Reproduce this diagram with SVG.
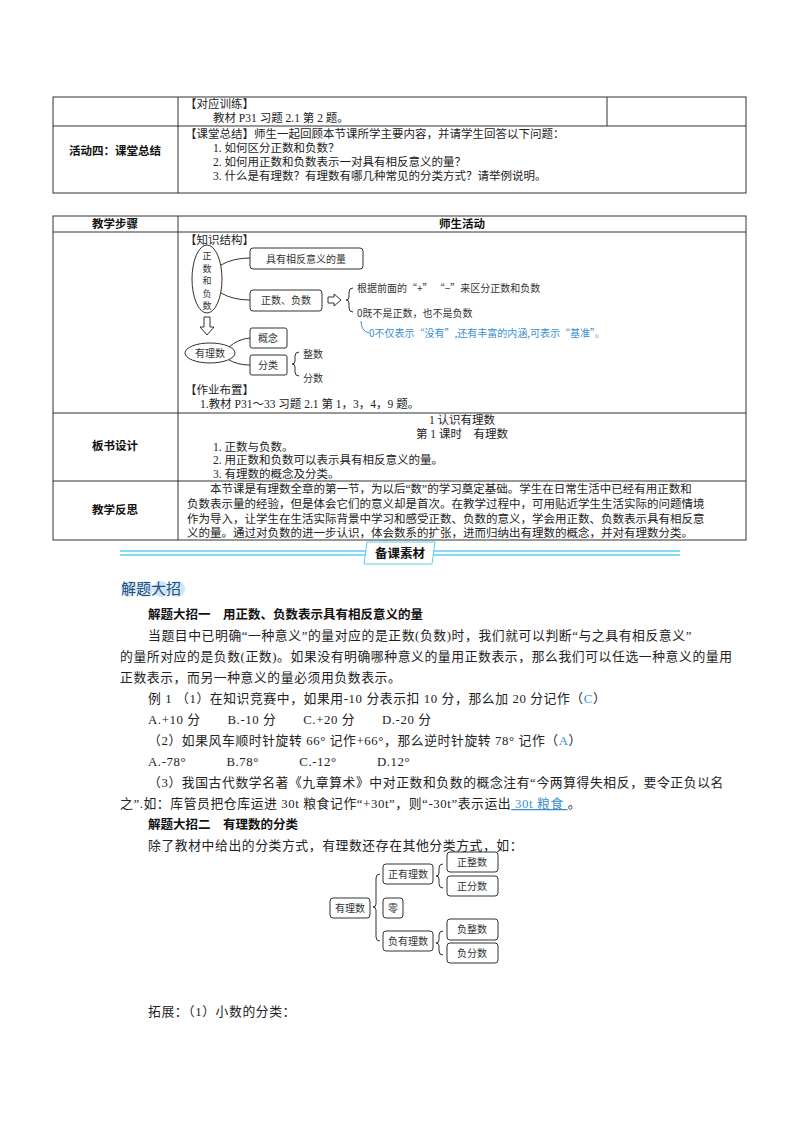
<svg xmlns="http://www.w3.org/2000/svg" width="800" height="1132" viewBox="0 0 800 1132">
<style>
.t{font-family:"Liberation Serif","Noto Sans CJK SC",serif;font-size:11.5px;fill:#222}
.b{font-family:"Noto Sans CJK SC",sans-serif;font-size:11.5px;font-weight:bold;fill:#111}
.p{font-family:"Liberation Serif","Noto Sans CJK SC",serif;font-size:12.8px;fill:#222;letter-spacing:0.6px}
.h{font-family:"Noto Sans CJK SC",sans-serif;font-size:12.5px;font-weight:bold;fill:#111}
.s{font-family:"Noto Sans CJK SC",sans-serif;font-size:10px;fill:#333}
.v{font-family:"Noto Sans CJK SC",sans-serif;font-size:9px;fill:#333}
.blue{fill:#3a8fd0}
.ln{stroke:#333;stroke-width:1;fill:none}
.bx{stroke:#333;stroke-width:1;fill:#fff}
</style>
<rect width="800" height="1132" fill="#fff"/>
<g id="table1">
<rect x="53" y="97" width="693" height="96" class="ln"/>
<line x1="53" y1="126" x2="746" y2="126" class="ln"/>
<line x1="178" y1="97" x2="178" y2="193" class="ln"/>
<line x1="607" y1="97" x2="607" y2="126" class="ln"/>
<text x="185" y="108" class="t">【对应训练】</text>
<text x="213" y="122" class="t">教材 P31 习题 2.1 第 2 题。</text>
<text x="115" y="155" class="b" text-anchor="middle">活动四：课堂总结</text>
<text x="185" y="138" class="t">【课堂总结】师生一起回顾本节课所学主要内容，并请学生回答以下问题：</text>
<text x="213" y="152" class="t">1. 如何区分正数和负数？</text>
<text x="213" y="166" class="t">2. 如何用正数和负数表示一对具有相反意义的量？</text>
<text x="213" y="180" class="t">3. 什么是有理数？有理数有哪几种常见的分类方式？请举例说明。</text>
</g>
<g id="table2">
<rect x="53" y="216" width="693" height="324" class="ln"/>
<line x1="53" y1="232" x2="746" y2="232" class="ln"/>
<line x1="53" y1="413" x2="746" y2="413" class="ln"/>
<line x1="53" y1="481" x2="746" y2="481" class="ln"/>
<line x1="178" y1="216" x2="178" y2="540" class="ln"/>
<text x="115" y="228" class="b" text-anchor="middle">教学步骤</text>
<text x="462" y="228" class="b" text-anchor="middle">师生活动</text>
<text x="185" y="244" class="t">【知识结构】</text>
<text x="185" y="394" class="t">【作业布置】</text>
<text x="200" y="408" class="t">1.教材 P31～33 习题 2.1 第 1，3，4，9 题。</text>
<text x="115" y="450" class="b" text-anchor="middle">板书设计</text>
<text x="462" y="424" class="t" text-anchor="middle">1  认识有理数</text>
<text x="462" y="438" class="t" text-anchor="middle">第 1 课时　有理数</text>
<text x="213" y="451" class="t">1. 正数与负数。</text>
<text x="213" y="464" class="t">2. 用正数和负数可以表示具有相反意义的量。</text>
<text x="213" y="478" class="t">3. 有理数的概念及分类。</text>
<text x="115" y="514" class="b" text-anchor="middle">教学反思</text>
<text x="210" y="493" class="t">本节课是有理数全章的第一节，为以后“数”的学习奠定基础。学生在日常生活中已经有用正数和</text>
<text x="187" y="508" class="t">负数表示量的经验，但是体会它们的意义却是首次。在教学过程中，可用贴近学生生活实际的问题情境</text>
<text x="187" y="523" class="t">作为导入，让学生在生活实际背景中学习和感受正数、负数的意义，学会用正数、负数表示具有相反意</text>
<text x="187" y="537" class="t">义的量。通过对负数的进一步认识，体会数系的扩张，进而归纳出有理数的概念，并对有理数分类。</text>
</g>
<g id="knowledge">
<ellipse cx="207" cy="279" rx="15" ry="34" class="bx"/>
<text x="207" y="259" class="v" text-anchor="middle">正</text>
<text x="207" y="271.5" class="v" text-anchor="middle">数</text>
<text x="207" y="284" class="v" text-anchor="middle">和</text>
<text x="207" y="296.5" class="v" text-anchor="middle">负</text>
<text x="207" y="309" class="v" text-anchor="middle">数</text>
<rect x="250" y="248" width="113" height="21" rx="3" class="bx"/>
<text x="306" y="263" class="s" text-anchor="middle">具有相反意义的量</text>
<rect x="250" y="290" width="72" height="21" rx="3" class="bx"/>
<text x="286" y="304" class="s" text-anchor="middle">正数、负数</text>
<path d="M221 265 Q233 258 250 258 M221 293 Q233 300 250 300" class="ln"/>
<path d="M328 297 h6 v-3 l7 6 l-7 6 v-3 h-6 z" class="ln"/>
<path d="M353 288 q-4 0 -4 4 v5 q0 3 -3 3 q3 0 3 3 v5 q0 4 4 4" class="ln"/>
<text x="357" y="292" class="s">根据前面的“+”  “−”来区分正数和负数</text>
<text x="357" y="317" class="s">0既不是正数，也不是负数</text>
<path d="M361 321 q0 10 8 12" stroke="#3a8fd0" fill="none"/>
<text x="369" y="337" class="s blue">0不仅表示“没有”,还有丰富的内涵,可表示“基准”。</text>
<path d="M204 317 h6 v10 h4 l-7 8 l-7 -8 h4 z" class="ln"/>
<ellipse cx="210" cy="353" rx="25" ry="10" class="bx"/>
<text x="210" y="357" class="s" text-anchor="middle">有理数</text>
<rect x="250" y="328" width="37" height="20" rx="2" class="bx"/>
<text x="268" y="342" class="s" text-anchor="middle">概念</text>
<rect x="250" y="355" width="37" height="20" rx="2" class="bx"/>
<text x="268" y="369" class="s" text-anchor="middle">分类</text>
<path d="M229 347 Q238 339 250 338 M229 360 Q238 365 250 365" class="ln"/>
<path d="M299 352 q-4 0 -4 4 v5 q0 3 -3 3 q3 0 3 3 v5 q0 4 4 4" class="ln"/>
<text x="303" y="358" class="s">整数</text>
<text x="303" y="382" class="s">分数</text>
</g>
<g id="banner">
<line x1="120" y1="551" x2="680" y2="551" stroke="#5cd0e8" stroke-width="1.5"/>
<line x1="120" y1="555" x2="680" y2="555" stroke="#5cd0e8" stroke-width="1.5"/>
<path d="M367 542 h68 l-3 22 h-68 z" fill="#fff" stroke="#5cd0e8"/>
<text x="400" y="558" class="h" text-anchor="middle">备课素材</text>
</g>
<g id="section">
<circle cx="129" cy="589" r="8" fill="#cfe6f7"/><circle cx="145" cy="589" r="8" fill="#cfe6f7"/><circle cx="161" cy="589" r="8" fill="#cfe6f7"/><circle cx="177" cy="589" r="8" fill="#cfe6f7"/>
<text x="121" y="594" font-family="Noto Sans CJK SC,sans-serif" font-size="15" fill="#1f4f80">解题大招</text>
<text x="148" y="619" class="h">解题大招一　用正数、负数表示具有相反意义的量</text>
<text x="148" y="640" class="p">当题目中已明确“一种意义”的量对应的是正数(负数)时，我们就可以判断“与之具有相反意义”</text>
<text x="120" y="661" class="p">的量所对应的是负数(正数)。如果没有明确哪种意义的量用正数表示，那么我们可以任选一种意义的量用</text>
<text x="120" y="682" class="p">正数表示，而另一种意义的量必须用负数表示。</text>
<text x="148" y="703" class="p">例 1 （1）在知识竞赛中，如果用-10 分表示扣 10 分，那么加 20 分记作（<tspan class="blue">C</tspan>）</text>
<text x="148" y="724" class="p">A.+10 分　　B.-10 分　　C.+20 分　　D.-20 分</text>
<text x="148" y="745" class="p">（2）如果风车顺时针旋转 66° 记作+66°，那么逆时针旋转 78° 记作（<tspan class="blue">A</tspan>）</text>
<text x="148" y="766" class="p">A.-78°　　　B.78°　　　C.-12°　　　D.12°</text>
<text x="148" y="787" class="p">（3）我国古代数学名著《九章算术》中对正数和负数的概念注有“今两算得失相反，要令正负以名</text>
<text x="120" y="808" class="p">之”.如：库管员把仓库运进 30t 粮食记作“+30t”，则“-30t”表示运出<tspan class="blue" text-decoration="underline"> 30t 粮食 </tspan>。</text>
<text x="148" y="829" class="h">解题大招二　有理数的分类</text>
<text x="148" y="850" class="p">除了教材中给出的分类方式，有理数还存在其他分类方式，如：</text>
<text x="148" y="1016" class="p">拓展：（1）小数的分类：</text>
</g>
<g id="tree">
<rect x="330" y="898" width="40" height="20" rx="3" class="bx"/>
<text x="350" y="912" class="s" text-anchor="middle">有理数</text>
<path d="M380 874 q-4 0 -4 4 v26 q0 3 -3 3 q3 0 3 3 v27 q0 4 4 4" class="ln"/>
<rect x="383" y="864" width="50" height="20" rx="3" class="bx"/>
<text x="408" y="878" class="s" text-anchor="middle">正有理数</text>
<rect x="383" y="898" width="20" height="20" rx="3" class="bx"/>
<text x="393" y="912" class="s" text-anchor="middle">零</text>
<rect x="383" y="931" width="50" height="20" rx="3" class="bx"/>
<text x="408" y="945" class="s" text-anchor="middle">负有理数</text>
<path d="M443 864 q-4 0 -4 4 v5 q0 3 -3 3 q3 0 3 3 v5 q0 4 4 4" class="ln"/>
<path d="M443 931 q-4 0 -4 4 v5 q0 3 -3 3 q3 0 3 3 v5 q0 4 4 4" class="ln"/>
<rect x="447" y="852" width="51" height="20" rx="3" class="bx"/>
<text x="472" y="866" class="s" text-anchor="middle">正整数</text>
<rect x="447" y="876" width="51" height="20" rx="3" class="bx"/>
<text x="472" y="890" class="s" text-anchor="middle">正分数</text>
<rect x="447" y="919" width="51" height="21" rx="3" class="bx"/>
<text x="472" y="933" class="s" text-anchor="middle">负整数</text>
<rect x="447" y="943" width="51" height="20" rx="3" class="bx"/>
<text x="472" y="957" class="s" text-anchor="middle">负分数</text>
</g>
</svg>
